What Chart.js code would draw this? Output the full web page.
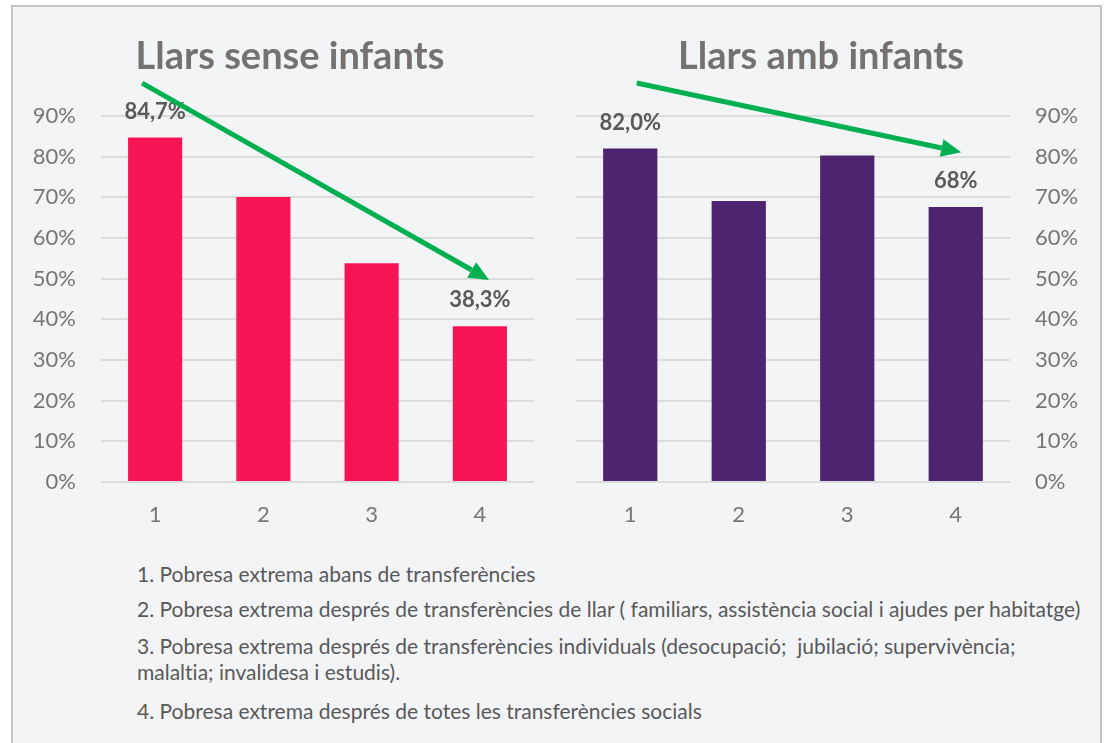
<!DOCTYPE html>
<html>
<head>
<meta charset="utf-8">
<script src="https://cdn.jsdelivr.net/npm/chart.js@4.4.1/dist/chart.umd.min.js"></script>
<style>
  body { margin: 0; background: #fff; width: 1108px; height: 743px; overflow: hidden; position: relative; font-family: Lato, "Open Sans", sans-serif; }
  .frame { position: absolute; left: 11px; top: 5px; width: 1087px; height: 760px; border: 2px solid #c4c4c4; background: #f3f4f6; }
  canvas { position: absolute; top: 0; }
  #left { left: 0; }
  #right { left: 560px; }
  .note { position: absolute; left: 137px; font-size: 21px; line-height: 26px; color: #595959; white-space: nowrap; font-variant-ligatures: none; }
</style>
</head>
<body>
<div class="frame"></div>
<canvas id="left" width="560" height="545"></canvas>
<canvas id="right" width="548" height="545"></canvas>
<div class="note" style="top:561px">1. Pobresa extrema abans de transferències</div>
<div class="note" style="top:596px">2. Pobresa extrema després de transferències de llar ( familiars, assistència social i ajudes per habitatge)</div>
<div class="note" style="top:633px">3. Pobresa extrema després de transferències individuals (desocupació;&nbsp; jubilació; supervivència;<br>malaltia; invalidesa i estudis).</div>
<div class="note" style="top:698px">4. Pobresa extrema després de totes les transferències socials</div>
<script>
// data
var categories = ["1", "2", "3", "4"];
var senseInfants = [84.7, 70.1, 53.8, 38.3];
var ambInfants = [82.0, 69.1, 80.3, 67.6];
var senseLabels = ["84,7%", "", "", "38,3%"];
var ambLabels = ["82,0%", "", "", "68%"];
var yMax = 90, yStep = 10;
// trend arrows, in [category index, percent]
var senseArrow = [[-0.12, 98.1], [3.085, 49.7]];
var ambArrow = [[0.06, 98.1], [3.05, 81.1]];

var tickFont = { family: "Lato", size: 22 };

// titles, value labels and green arrows
var annot = {
  id: 'annot',
  afterDatasetsDraw: function(chart, args, opts) {
    var ctx = chart.ctx;
    var xs = chart.scales.x, ys = chart.scales.y;
    var meta = chart.getDatasetMeta(0);
    ctx.save();
    ctx.font = "bold 38px Lato";
    ctx.fillStyle = "#767171";
    ctx.textAlign = "center";
    ctx.textBaseline = "alphabetic";
    ctx.fillText(opts.title, opts.titleX, 69);

    ctx.font = "bold 22px Lato";
    ctx.fillStyle = "#595959";
    ctx.textBaseline = "middle";
    opts.labels.forEach(function(t, i) {
      if (!t) return;
      var bar = meta.data[i];
      ctx.fillText(t, bar.x, bar.y - 26);
    });

    var a = opts.arrow;
    var x1 = xs.getPixelForValue(a[0][0]), y1 = ys.getPixelForValue(a[0][1]);
    var x2 = xs.getPixelForValue(a[1][0]), y2 = ys.getPixelForValue(a[1][1]);
    var ang = Math.atan2(y2 - y1, x2 - x1);
    var head = 20, half = 9;
    var bx = x2 - head * Math.cos(ang), by = y2 - head * Math.sin(ang);
    ctx.strokeStyle = "#00b050";
    ctx.fillStyle = "#00b050";
    ctx.lineWidth = 5;
    ctx.beginPath();
    ctx.moveTo(x1, y1);
    ctx.lineTo(bx, by);
    ctx.stroke();
    ctx.beginPath();
    ctx.moveTo(x2, y2);
    ctx.lineTo(bx + half * Math.sin(ang), by - half * Math.cos(ang));
    ctx.lineTo(bx - half * Math.sin(ang), by + half * Math.cos(ang));
    ctx.closePath();
    ctx.fill();
    ctx.restore();
  }
};

function makeChart(id, values, color, side, pad, axisW, title, titleX, labels, arrow) {
  return new Chart(document.getElementById(id), {
    type: 'bar',
    data: {
      labels: categories,
      datasets: [{
        data: values,
        backgroundColor: color,
        borderWidth: 0,
        barPercentage: 0.5,
        categoryPercentage: 1
      }]
    },
    options: {
      responsive: false,
      animation: false,
      layout: { padding: pad },
      plugins: {
        legend: { display: false },
        tooltip: { enabled: false },
        annot: { title: title, titleX: titleX, labels: labels, arrow: arrow }
      },
      scales: {
        x: {
          grid: { display: false },
          border: { display: false },
          ticks: { font: tickFont, color: "#767676", padding: 12 },
          afterFit: function(s) { s.height = 40; }
        },
        y: {
          position: side,
          min: 0,
          max: yMax,
          grid: { color: "#dcdcdc", lineWidth: 2, drawTicks: false },
          border: { display: false },
          ticks: {
            stepSize: yStep,
            font: tickFont,
            color: "#767676",
            padding: 25,
            callback: function(v) { return v + "%"; }
          },
          afterFit: function(s) { s.width = axisW; }
        }
      }
    },
    plugins: [annot]
  });
}

makeChart("left", senseInfants, "#f71455", "left",
  { left: 20, right: 26, top: 116, bottom: 23 }, 81,
  "Llars sense infants", 290, senseLabels, senseArrow);
makeChart("right", ambInfants, "#4e2370", "right",
  { left: 16, right: 20, top: 116, bottom: 23 }, 78,
  "Llars amb infants", 261, ambLabels, ambArrow);
</script>
</body>
</html>
